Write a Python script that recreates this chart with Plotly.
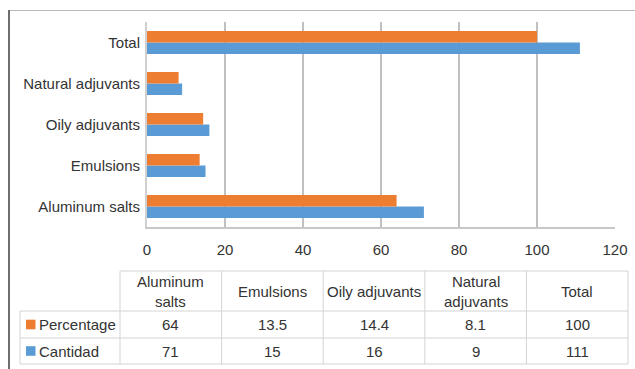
import plotly.graph_objects as go

categories = ["Aluminum salts", "Emulsions", "Oily adjuvants", "Natural adjuvants", "Total"]
header_labels = ["Aluminum<br>salts", "Emulsions", "Oily adjuvants", "Natural<br>adjuvants", "Total"]
percentage = [64, 13.5, 14.4, 8.1, 100]
cantidad = [71, 15, 16, 9, 111]
series_names = ["Percentage", "Cantidad"]
x_ticks = [0, 20, 40, 60, 80, 100, 120]

ORANGE = "#ED7D31"
BLUE = "#5B9BD5"
TXT = "#333333"
FONT = "Liberation Sans, Arial, sans-serif"
W, H = 635, 369


def X(px):
    return px / W


def Y(py):
    return 1 - py / H


fig = go.Figure()
fig.add_trace(go.Bar(y=categories, x=cantidad, name="Cantidad", orientation="h",
                     marker=dict(color=BLUE, line=dict(width=0))))
fig.add_trace(go.Bar(y=categories, x=percentage, name="Percentage", orientation="h",
                     marker=dict(color=ORANGE, line=dict(width=0))))

fig.update_layout(
    width=W, height=H,
    autosize=False,
    margin=dict(l=0, r=0, t=0, b=0, pad=0, autoexpand=False),
    paper_bgcolor="white", plot_bgcolor="white",
    showlegend=False,
    barmode="group", bargap=0.44, bargroupgap=0,
    font=dict(family=FONT, size=15, color=TXT),
    xaxis=dict(domain=[X(147), X(615)], range=[0, 120], tickvals=x_ticks, automargin=False,
               showgrid=True, gridcolor="#C0C0C0", gridwidth=1.5,
               zeroline=False, showline=True, linecolor="#C8C8C8", linewidth=1.5,
               ticks="", ticklabelstandoff=8, tickfont=dict(size=15, color=TXT)),
    yaxis=dict(domain=[Y(227), Y(22)], showgrid=False, zeroline=False, automargin=False,
               showline=True, linecolor="#D0D0D0", linewidth=2,
               ticks="", ticklabelstandoff=2, tickfont=dict(size=15, color=TXT)),
)

shapes = []
annotations = []

# outer frame
shapes.append(dict(type="line", xref="paper", yref="paper", x0=X(9), x1=X(635), y0=Y(10.5), y1=Y(10.5),
                   line=dict(color="#B8B8B8", width=1)))
shapes.append(dict(type="line", xref="paper", yref="paper", x0=X(9), x1=X(9), y0=Y(10), y1=Y(369),
                   line=dict(color="#6E6E6E", width=2)))

# data table
GRID = "#D4D4D4"
col0 = 120.0
colw = 101.6
leg_left = 20
rows = [271, 311, 338, 364]
ncol = len(categories)
right = col0 + ncol * colw

def hline(x0, x1, y):
    shapes.append(dict(type="line", xref="paper", yref="paper", x0=X(x0), x1=X(x1), y0=Y(y), y1=Y(y),
                       line=dict(color=GRID, width=1)))

def vline(x, y0, y1):
    shapes.append(dict(type="line", xref="paper", yref="paper", x0=X(x), x1=X(x), y0=Y(y0), y1=Y(y1),
                       line=dict(color=GRID, width=1)))

hline(col0, right, rows[0])
for r in rows[1:]:
    hline(leg_left, right, r)
vline(leg_left, rows[1], rows[3])
for i in range(ncol + 1):
    vline(col0 + i * colw, rows[0], rows[3])

for i, lab in enumerate(header_labels):
    annotations.append(dict(xref="paper", yref="paper", x=X(col0 + (i + 0.5) * colw),
                            y=Y((rows[0] + rows[1]) / 2), text=lab, showarrow=False,
                            xanchor="center", yanchor="middle", font=dict(size=15, color=TXT)))

series_vals = [percentage, cantidad]
series_cols = [ORANGE, BLUE]
for r, (name, vals, col) in enumerate(zip(series_names, series_vals, series_cols)):
    yc = (rows[r + 1] + rows[r + 2]) / 2
    shapes.append(dict(type="rect", xref="paper", yref="paper", x0=X(26), x1=X(35.5),
                       y0=Y(yc - 4.8), y1=Y(yc + 4.8), fillcolor=col, line=dict(width=0)))
    annotations.append(dict(xref="paper", yref="paper", x=X(37), y=Y(yc), text=name, showarrow=False,
                            xanchor="left", yanchor="middle", font=dict(size=15, color=TXT)))
    for i, v in enumerate(vals):
        annotations.append(dict(xref="paper", yref="paper", x=X(col0 + (i + 0.5) * colw), y=Y(yc),
                                text=f"{v:g}", showarrow=False, xanchor="center", yanchor="middle",
                                font=dict(size=15, color=TXT)))

fig.update_layout(shapes=shapes, annotations=annotations)

fig.write_html(
    "out.html",
    config={"displayModeBar": False, "responsive": False},
    post_script="document.documentElement.style.margin='0';document.body.style.margin='0';"
                "document.body.style.overflow='hidden';document.documentElement.style.overflow='hidden';",
)
